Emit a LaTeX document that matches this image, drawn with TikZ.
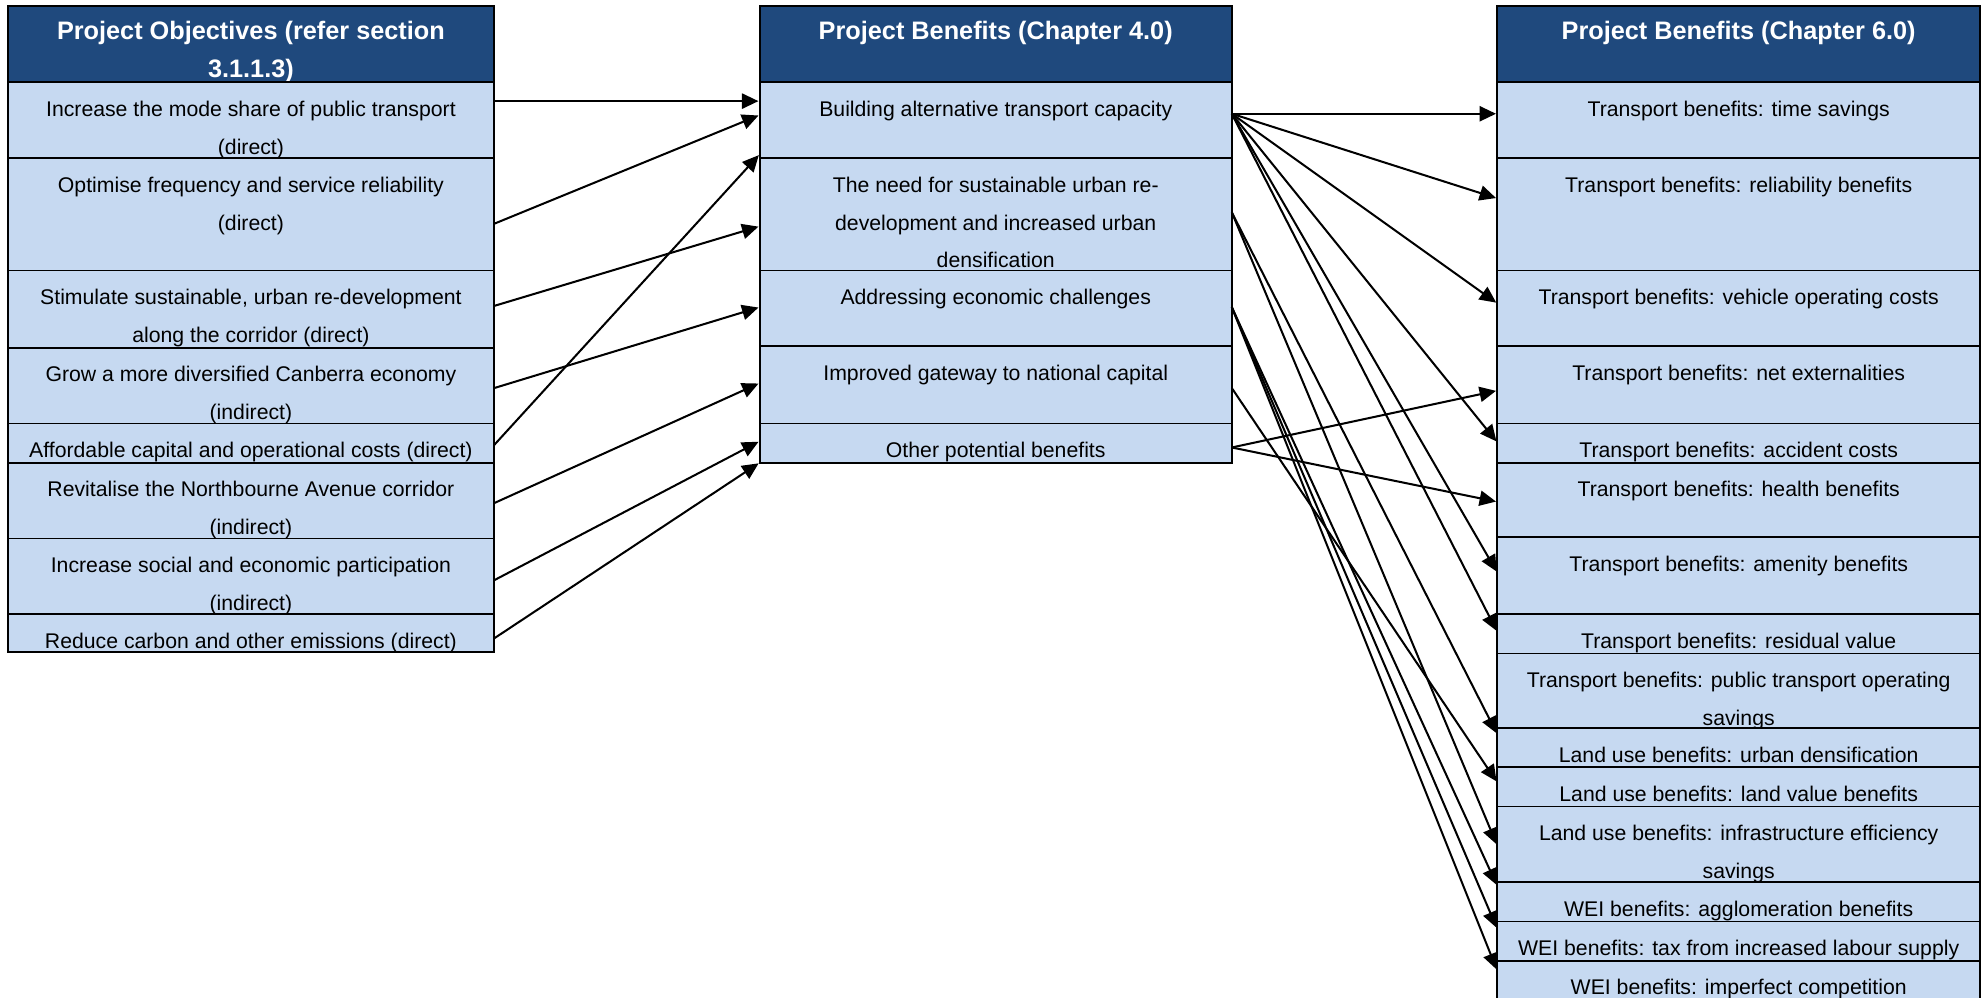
\documentclass[tikz,border=0pt]{standalone}
\usepackage{fontspec}
\setmainfont{Liberation Sans}
\usetikzlibrary{arrows.meta}
\definecolor{headblue}{HTML}{1F497D}
\definecolor{rowblue}{HTML}{C6D9F1}
\tikzset{
  celltop/.store in=\celltop, celltop=27pt,
  cell/.style 2 args={draw, line width=1.5pt, fill=rowblue, anchor=north west,
    inner sep=0pt, outer sep=0pt, font=\fontsize{16.8}{30}\selectfont,
    execute at begin node={\begin{minipage}[b][#2pt][t]{#1pt}\centering\rule{0pt}{\celltop}},
    execute at end node={\end{minipage}}},
  head/.style={cell={#1}{60}, fill=headblue, text=white, celltop=26pt,
    font=\fontsize{20}{30}\selectfont\bfseries},
  link/.style={-{Triangle[length=13pt,width=12pt]}, line width=1.6pt, shorten >=1pt},
}
\begin{document}
\begin{tikzpicture}[x=1pt, y=-1pt]
  \useasboundingbox (0,0) rectangle (1568,789);
  % objectives
  \node[head=385] (ohead) at (6,5) {Project Objectives (refer section\\3.1.1.3)};
  \node[cell={385}{60}] (o1) at (ohead.south west) {Increase the mode share of public transport\\(direct)};
  \node[cell={385}{89}] (o2) at (o1.south west) {Optimise frequency and service reliability\\(direct)};
  \node[cell={385}{61}] (o3) at (o2.south west) {Stimulate sustainable, urban re-development\\along the corridor (direct)};
  \node[cell={385}{60}] (o4) at (o3.south west) {Grow a more diversified Canberra economy\\(indirect)};
  \node[cell={385}{31}] (o5) at (o4.south west) {Affordable capital and operational costs (direct)};
  \node[cell={385}{60}] (o6) at (o5.south west) {Revitalise the Northbourne Avenue corridor\\(indirect)};
  \node[cell={385}{60}] (o7) at (o6.south west) {Increase social and economic participation\\(indirect)};
  \node[cell={385}{30}] (o8) at (o7.south west) {Reduce carbon and other emissions (direct)};
  % chapter 4 benefits
  \node[head=373.5] (bhead) at (601,5) {Project Benefits (Chapter 4.0)};
  \node[cell={373.5}{60}] (b1) at (bhead.south west) {Building alternative transport capacity};
  \node[cell={373.5}{89}] (b2) at (b1.south west) {The need for sustainable urban re-\\development and increased urban\\densification};
  \node[cell={373.5}{60}] (b3) at (b2.south west) {Addressing economic challenges};
  \node[cell={373.5}{61}] (b4) at (b3.south west) {Improved gateway to national capital};
  \node[cell={373.5}{31}] (b5) at (b4.south west) {Other potential benefits};
  % chapter 6 benefits (last row runs off the page)
  \node[head=382] (rhead) at (1184.5,5) {Project Benefits (Chapter 6.0)};
  \node[cell={382}{60}] (r1) at (rhead.south west) {Transport benefits: time savings};
  \node[cell={382}{89}] (r2) at (r1.south west) {Transport benefits: reliability benefits};
  \node[cell={382}{60}] (r3) at (r2.south west) {Transport benefits: vehicle operating costs};
  \node[cell={382}{61}] (r4) at (r3.south west) {Transport benefits: net externalities};
  \node[cell={382}{31}] (r5) at (r4.south west) {Transport benefits: accident costs};
  \node[cell={382}{59}] (r6) at (r5.south west) {Transport benefits: health benefits};
  \node[cell={382}{61}] (r7) at (r6.south west) {Transport benefits: amenity benefits};
  \node[cell={382}{31}] (r8) at (r7.south west) {Transport benefits: residual value};
  \node[cell={382}{59}] (r9) at (r8.south west) {Transport benefits: public transport operating\\savings};
  \node[cell={382}{31}] (r10) at (r9.south west) {Land use benefits: urban densification};
  \node[cell={382}{31}] (r11) at (r10.south west) {Land use benefits: land value benefits};
  \node[cell={382}{60}] (r12) at (r11.south west) {Land use benefits: infrastructure efficiency\\savings};
  \node[cell={382}{31}] (r13) at (r12.south west) {WEI benefits: agglomeration benefits};
  \node[cell={382}{31}] (r14) at (r13.south west) {WEI benefits: tax from increased labour supply};
  \node[cell={382}{36}] (r15) at (r14.south west) {WEI benefits: imperfect competition};
  % objectives -> chapter 4
  \draw[link] ([yshift=-15pt]o1.north east) -- ([yshift=-15pt]b1.north west);
  \draw[link] ([yshift=-52pt]o2.north east) -- ([yshift=-26pt]b1.north west);
  \draw[link] ([yshift=-28pt]o3.north east) -- ([yshift=-54pt]b2.north west);
  \draw[link] ([yshift=-32pt]o4.north east) -- ([yshift=-29pt]b3.north west);
  \draw[link] ([yshift=-17pt]o5.north east) -- ([yshift=-57pt]b1.north west);
  \draw[link] ([yshift=-32pt]o6.north east) -- ([yshift=-29pt]b4.north west);
  \draw[link] ([yshift=-33pt]o7.north east) -- ([yshift=-14pt]b5.north west);
  \draw[link] ([yshift=-19pt]o8.north east) -- (b5.south west);
  % chapter 4 -> chapter 6
  \draw[link] ([yshift=-25pt]b1.north east) -- ([yshift=-25pt]r1.north west);
  \draw[link] ([yshift=-25pt]b1.north east) -- ([yshift=-32pt]r2.north west);
  \draw[link] ([yshift=-25pt]b1.north east) -- ([yshift=-26pt]r3.north west);
  \draw[link] ([yshift=-25pt]b1.north east) -- ([yshift=-15pt]r5.north west);
  \draw[link] ([yshift=-25pt]b1.north east) -- ([yshift=-28pt]r7.north west);
  \draw[link] ([yshift=-25pt]b1.north east) -- ([yshift=-14pt]r8.north west);
  \draw[link] ([yshift=-43pt]b2.north east) -- ([yshift=-5pt]r10.north west);
  \draw[link] ([yshift=-43pt]b2.north east) -- ([yshift=-31pt]r12.north west);
  \draw[link] ([yshift=-29pt]b3.north east) -- ([yshift=-3pt]r13.north west);
  \draw[link] ([yshift=-29pt]b3.north east) -- ([yshift=-6pt]r14.north west);
  \draw[link] ([yshift=-29pt]b3.north east) -- ([yshift=-8pt]r15.north west);
  \draw[link] ([yshift=-33pt]b4.north east) -- ([yshift=-12pt]r11.north west);
  \draw[link] ([yshift=-19pt]b5.north east) -- ([yshift=-35pt]r4.north west);
  \draw[link] ([yshift=-19pt]b5.north east) -- ([yshift=-31pt]r6.north west);
\end{tikzpicture}
\end{document}
